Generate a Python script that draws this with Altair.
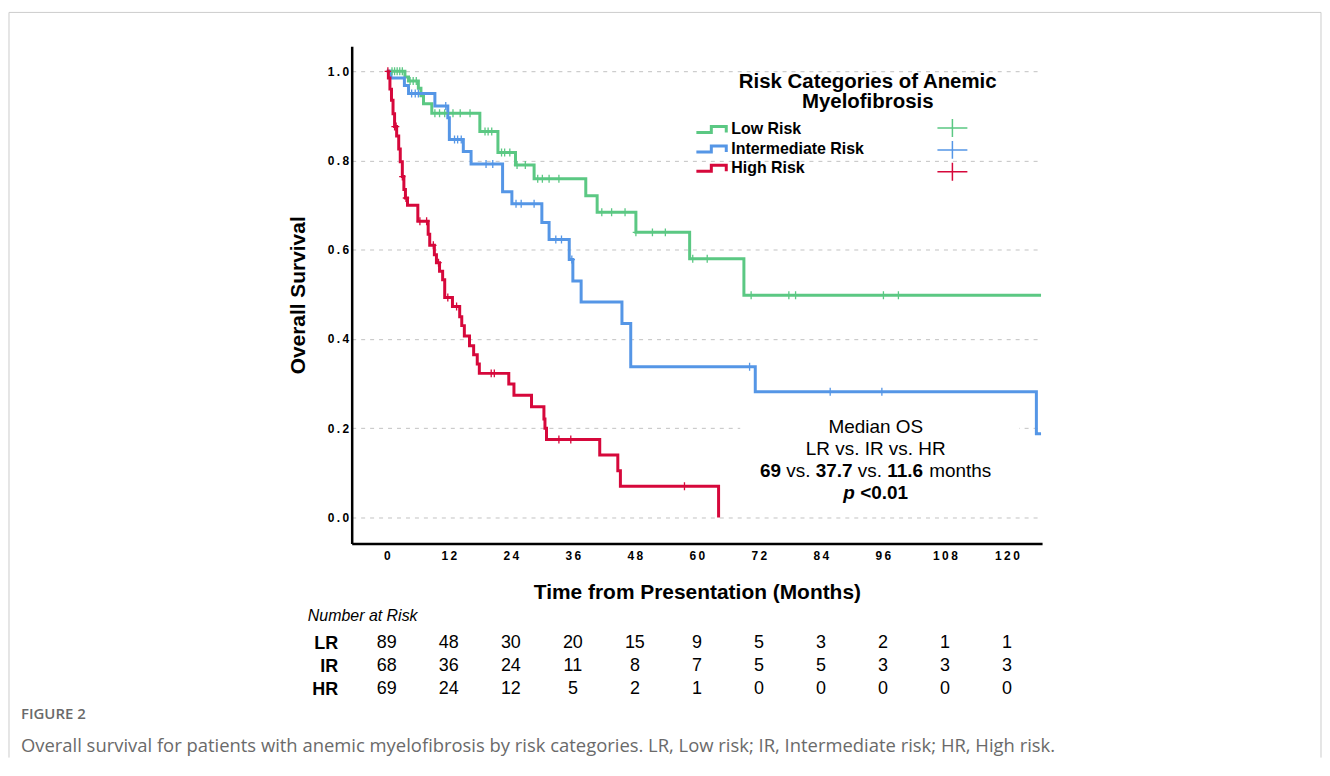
import altair as alt
import pandas as pd

# ---------------- data ----------------
groups = ["Low Risk", "Intermediate Risk", "High Risk"]
colors = ["#5BC883", "#5596E6", "#D6083B"]

lr_time = [0, 3.5, 4.2, 6.1, 6.6, 7.1, 8.7, 18.0, 21.5, 24.9, 28.5, 38.5, 40.7, 48.2, 58.6, 69.1, 126.6]
lr_surv = [1.0, 0.987, 0.978, 0.962, 0.945, 0.927, 0.906, 0.865, 0.818, 0.79, 0.759, 0.721, 0.684, 0.639, 0.58, 0.498, 0.498]
lr_cens = [1.0, 1.5, 2.0, 2.5, 3.0, 4.5, 5.1, 5.7, 9.3, 10.2, 11.2, 12.8, 14.2, 16.1, 19.0, 19.6, 20.3,
           22.2, 22.8, 23.8, 25.2, 26.8, 29.2, 30.1, 31.4, 33.3, 41.6, 43.5, 46.1, 48.2, 51.4, 53.9,
           59.2, 62.0, 70.5, 77.8, 79.1, 96.1, 99.0]

ir_time = [0, 0.8, 3.4, 4.2, 9.3, 11.8, 12.1, 14.8, 16.3, 22.4, 24.2, 30.0, 31.4, 35.3, 36.0, 37.6,
           45.5, 47.2, 71.3, 125.7, 126.6]
ir_surv = [1.0, 0.985, 0.968, 0.95, 0.922, 0.896, 0.847, 0.82, 0.792, 0.73, 0.703, 0.661, 0.623, 0.578,
           0.53, 0.483, 0.435, 0.338, 0.282, 0.1875, 0.1875]
ir_cens = [4.8, 5.5, 6.1, 11.4, 13.1, 13.7, 14.4, 19.2, 20.5, 25.0, 26.0, 28.5, 32.7, 33.8, 35.8,
           70.2, 85.8, 95.8]

hr_time = [0, 0.3, 0.6, 0.9, 1.2, 1.5, 1.9, 2.3, 2.6, 3.0, 3.3, 3.6, 4.0, 6.0, 8.0, 8.3, 9.2, 9.6,
           10.2, 10.8, 11.2, 12.7, 14.1, 14.5, 15.0, 16.0, 16.8, 17.5, 17.9, 23.6, 24.6, 28.0, 30.4,
           30.6, 30.9, 41.2, 44.7, 45.2, 64.2]
hr_surv = [1.0, 0.985, 0.96, 0.935, 0.905, 0.876, 0.855, 0.826, 0.797, 0.764, 0.735, 0.716, 0.70,
           0.664, 0.635, 0.61, 0.589, 0.571, 0.552, 0.533, 0.493, 0.473, 0.45, 0.43, 0.407, 0.385,
           0.365, 0.344, 0.323, 0.299, 0.274, 0.248, 0.221, 0.20, 0.175, 0.14, 0.105, 0.07, 0.0]
hr_cens = [0.2, 1.5, 1.8, 3.0, 3.7, 6.4, 7.7, 9.0, 10.0, 11.8, 13.5, 20.2, 20.8, 33.3, 35.6, 57.6]

x_ticks = [0, 12, 24, 36, 48, 60, 72, 84, 96, 108, 120]
y_ticks = [0.0, 0.2, 0.4, 0.6, 0.8, 1.0]

risk_rows = ["LR", "IR", "HR"]
lr_at_risk = [89, 48, 30, 20, 15, 9, 5, 3, 2, 1, 1]
ir_at_risk = [68, 36, 24, 11, 8, 7, 5, 5, 3, 3, 3]
hr_at_risk = [69, 24, 12, 5, 2, 1, 0, 0, 0, 0, 0]

caption_label = "FIGURE 2"
caption_text = ("Overall survival for patients with anemic myelofibrosis by risk categories. "
                "LR, Low risk; IR, Intermediate risk; HR, High risk.")


# ---------------- build tables ----------------
def step_at(ts, ss, t):
    val = ss[0]
    for ti, si in zip(ts, ss):
        if ti <= t:
            val = si
    return val


series = [(groups[0], lr_time, lr_surv, lr_cens),
          (groups[1], ir_time, ir_surv, ir_cens),
          (groups[2], hr_time, hr_surv, hr_cens)]

curve_rows, cens_rows = [], []
for g, ts, ss, cs in series:
    for i, (t, s) in enumerate(zip(ts, ss)):
        curve_rows.append({"group": g, "time": t, "surv": s, "idx": i})
    for c in cs:
        cens_rows.append({"grp": g, "time": c, "surv": step_at(ts, ss, c)})
curves = pd.DataFrame(curve_rows)
cens_df = pd.DataFrame(cens_rows)

risk_rows_data = []
for r, vals in zip(risk_rows, [lr_at_risk, ir_at_risk, hr_at_risk]):
    for t, n in zip(x_ticks, vals):
        risk_rows_data.append({"row": r, "time": t, "n": n})
risk_df = pd.DataFrame(risk_rows_data)

one = pd.DataFrame({"k": [0]})

# ---------------- scales / styles ----------------
FONT = "Liberation Sans"
xs = alt.Scale(domain=[-6.8, 126.8], nice=False, zero=False)
ys = alt.Scale(domain=[-0.058, 1.056], nice=False, zero=False)
spaced = "join(split(datum.label, ''), '\u2009')"

x_axis = alt.Axis(values=x_ticks, title="Time from Presentation (Months)", grid=False, ticks=False,
                  domainColor="black", domainWidth=2.5, labelFont=FONT, labelFontSize=12,
                  labelFontWeight="bold", labelColor="black", labelPadding=7, labelExpr=spaced,
                  titleFont=FONT, titleFontSize=21, titleFontWeight="bold", titleColor="black",
                  titlePadding=20)
y_axis = alt.Axis(values=y_ticks, format=".1f", title="Overall Survival", grid=True,
                  gridColor="#c2c2c2", gridDash=[4, 5], gridWidth=1, ticks=False,
                  domainColor="black", domainWidth=2.5, labelFont=FONT, labelFontSize=12,
                  labelFontWeight="bold", labelColor="black", labelPadding=3, labelExpr=spaced,
                  titleFont=FONT, titleFontSize=21, titleFontWeight="bold", titleColor="black",
                  titlePadding=19)

# ---------------- KM panel ----------------
white_box = alt.Chart(one).mark_rect(color="white").encode(
    x=alt.value(390), x2=alt.value(670), y=alt.value(362), y2=alt.value(457))

lines = alt.Chart(curves).mark_line(interpolate="step-after", strokeWidth=3).encode(
    x=alt.X("time:Q", scale=xs, axis=x_axis),
    y=alt.Y("surv:Q", scale=ys, axis=y_axis),
    color=alt.Color("group:N", sort=groups, scale=alt.Scale(range=colors),
                    legend=alt.Legend(orient="none", legendX=344.5, legendY=74.5, title=None,
                                      padding=0, symbolType="M-1,0.4H1V-0.4H3V0.4",
                                      symbolSize=225, symbolStrokeWidth=3,
                                      symbolFillColor="transparent", labelFont=FONT,
                                      labelFontSize=16, labelFontWeight="bold",
                                      labelColor="black", labelOffset=18.5, rowPadding=1.5)),
    order="idx:Q",
)

cens = alt.Chart(cens_df).mark_point(shape="M-0.8,0H0.8M0,-1V1", size=64, strokeWidth=1.3,
                                     filled=False, opacity=1).encode(
    x="time:Q",
    y="surv:Q",
    stroke=alt.Stroke("grp:N", sort=groups, scale=alt.Scale(range=colors),
                      legend=alt.Legend(orient="none", legendX=593, legendY=72, title=None,
                                        padding=0, symbolType="M-1.67,0H1.67M0,-1V1",
                                        symbolSize=324, symbolStrokeWidth=1.5,
                                        symbolFillColor="transparent", labelOpacity=0,
                                        labelFont=FONT, labelFontSize=16,
                                        labelFontWeight="bold", rowPadding=-4)),
)

legend_title = alt.Chart(one).mark_text(
    text=["Risk Categories of Anemic", "Myelofibrosis"], font=FONT, fontSize=20.5,
    fontWeight="bold", align="center", baseline="top", lineHeight=20, color="black").encode(
    x=alt.value(518), y=alt.value(26))


def txt(s, x, y, align="center", weight="normal", style="normal"):
    return alt.Chart(one).mark_text(text=s, font=FONT, fontSize=19, fontWeight=weight,
                                    fontStyle=style, align=align, baseline="middle",
                                    color="black").encode(x=alt.value(x), y=alt.value(y))


annot = [
    txt("Median OS", 526, 382),
    txt("LR vs. IR vs. HR", 526, 404),
    txt("69", 409.8, 426, "left", "bold"),
    txt("vs.", 436.2, 426, "left"),
    txt("37.7", 465.7, 426, "left", "bold"),
    txt("vs.", 508.0, 426, "left"),
    txt("11.6", 537.5, 426, "left", "bold"),
    txt("months", 579.8, 426, "left"),
    txt("p", 493.5, 448, "left", "bold", "italic"),
    txt("<0.01", 510.4, 448, "left", "bold"),
]

frame_col = "#cccccc"
frame = [
    alt.Chart(one).mark_rule(color=frame_col, strokeWidth=1).encode(
        x=alt.value(-344), y=alt.value(-34), y2=alt.value(714)),
    alt.Chart(one).mark_rule(color=frame_col, strokeWidth=1).encode(
        x=alt.value(-344), x2=alt.value(973), y=alt.value(-34)),
    alt.Chart(one).mark_rule(color=frame_col, strokeWidth=1).encode(
        x=alt.value(973), y=alt.value(-34), y2=alt.value(714)),
]

km = alt.layer(white_box, lines, cens, legend_title, *annot, *frame).properties(
    width=693, height=499)

# ---------------- number-at-risk panel ----------------
table_text = alt.Chart(risk_df).mark_text(
    font="Liberation Sans Narrow, Liberation Sans", fontSize=18, baseline="middle",
    color="black").encode(
    x=alt.X("time:Q", scale=xs, axis=None),
    y=alt.Y("row:N", sort=risk_rows, scale=alt.Scale(paddingInner=0, paddingOuter=0),
            axis=alt.Axis(title=None, domain=False, ticks=False, grid=False,
                          labelFont="Liberation Sans Narrow, Liberation Sans", labelFontSize=18,
                          labelFontWeight="bold", labelColor="black", labelPadding=14)),
    text="n:Q",
)

fig_label = alt.Chart(one).mark_text(
    text=caption_label, font="Open Sans", fontSize=15, fontWeight=600, align="left",
    baseline="middle", color="#6a6a6a").encode(x=alt.value(-332), y=alt.value(82))
fig_caption = alt.Chart(one).mark_text(
    text=caption_text, font="Open Sans", fontSize=18.5, align="left", baseline="middle",
    color="#6a6a6a").encode(x=alt.value(-332), y=alt.value(114.5))

table = alt.layer(table_text, fig_label, fig_caption).properties(
    width=693, height=69,
    title=alt.TitleParams("Number at Risk", anchor="start", frame="group", dx=-44,
                          font=FONT, fontSize=16, fontStyle="italic", fontWeight="normal",
                          color="black", offset=8))

chart = alt.vconcat(km, table, spacing=89, bounds="flush").properties(
    padding={"left": 0, "top": 2, "right": 0, "bottom": 0}
).configure(font=FONT).configure_view(stroke=None)

chart.save("out.html", embed_options={"renderer": "svg", "actions": False})
